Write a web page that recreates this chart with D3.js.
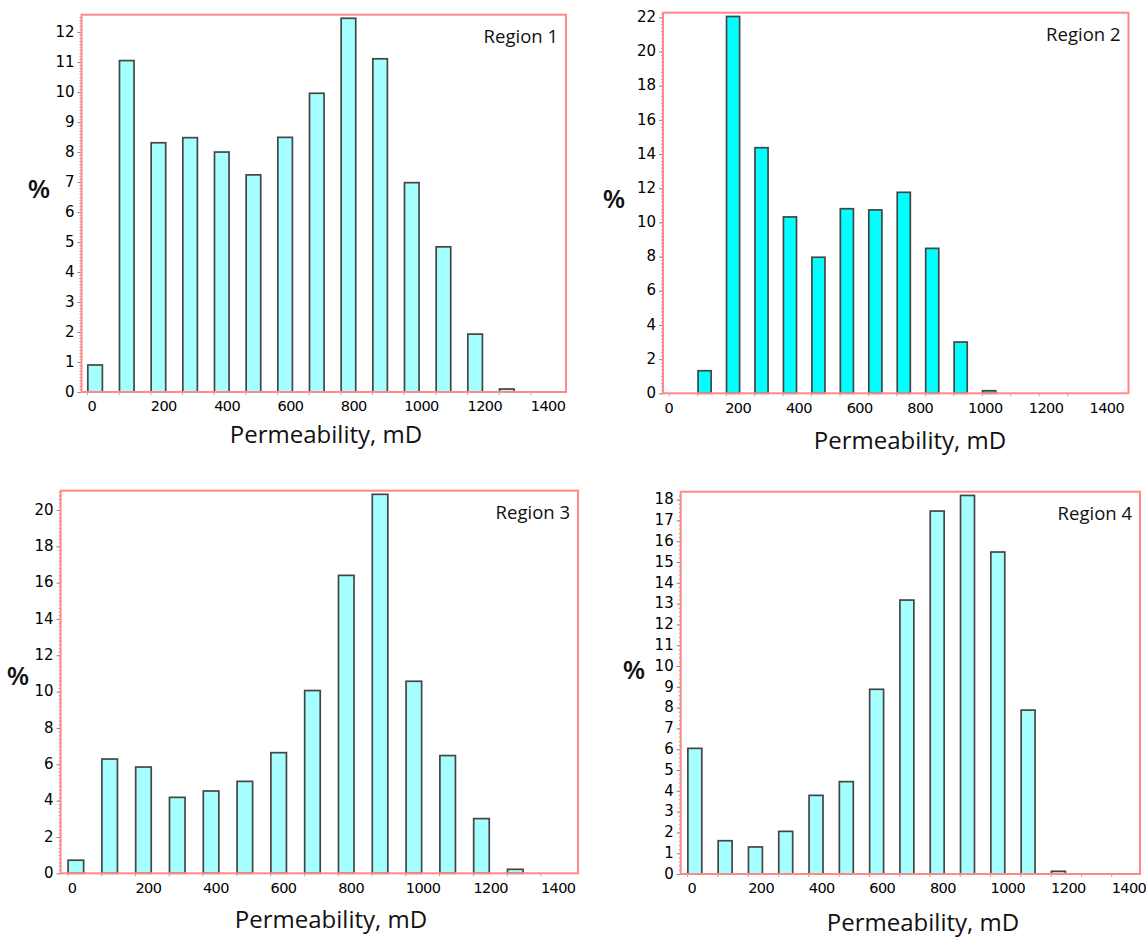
<!DOCTYPE html>
<html>
<head>
<meta charset="utf-8">
<script src="https://cdn.jsdelivr.net/npm/d3@7"></script>
<style>
  html, body { margin: 0; padding: 0; background: #fff; }
  svg { display: block; }
</style>
</head>
<body>
<svg id="chart" width="1146" height="937"></svg>
<script>
// Permeability bins (mD, left edge of each 100 mD class)
const binStarts = [0, 100, 200, 300, 400, 500, 600, 700, 800, 900, 1000, 1100, 1200, 1300, 1400];
const xTickLabels = [0, 200, 400, 600, 800, 1000, 1200, 1400];

// Share of samples (%) in each bin, per region
const region1 = [0.9, 11.05, 8.31, 8.48, 8.0, 7.24, 8.49, 9.96, 12.46, 11.11, 6.98, 4.84, 1.93, 0.1, 0];
const region2 = [0, 1.32, 22.05, 14.37, 10.32, 7.96, 10.8, 10.73, 11.76, 8.48, 3.0, 0.15, 0, 0, 0];
const region3 = [0.72, 6.29, 5.85, 4.18, 4.53, 5.06, 6.64, 10.06, 16.4, 20.86, 10.57, 6.48, 3.01, 0.22, 0];
const region4 = [6.04, 1.6, 1.3, 2.05, 3.78, 4.44, 8.88, 13.17, 17.45, 18.2, 15.48, 7.88, 0.13, 0, 0];

// Y tick values per panel
const yTicks1 = [0, 1, 2, 3, 4, 5, 6, 7, 8, 9, 10, 11, 12];
const yTicks2 = [0, 2, 4, 6, 8, 10, 12, 14, 16, 18, 20, 22];
const yTicks3 = [0, 2, 4, 6, 8, 10, 12, 14, 16, 18, 20];
const yTicks4 = [0, 1, 2, 3, 4, 5, 6, 7, 8, 9, 10, 11, 12, 13, 14, 15, 16, 17, 18];

const regionNames = ["Region 1", "Region 2", "Region 3", "Region 4"];
const xTitle = "Permeability, mD";
const yTitle = "%";

const BAR_SPAN = 46; // bar width in mD

// Panel layout
const panels = [
  { name: regionNames[0], values: region1, yTicks: yTicks1, yTop: 12.58, minor: 0.1,
    box: { x0: 81.5, x1: 566, y0: 14.7, y1: 392 }, xDom: [-17.4, 1512.5],
    fill: "#a6ffff", labelRange: null, pct: [39, 198], title: [326, 443] },
  { name: regionNames[1], values: region2, yTicks: yTicks2, yTop: 22.27, minor: 0.2,
    box: { x0: 663, x1: 1128.5, y0: 12.7, y1: 393.3 }, xDom: [-20.4, 1615.6],
    fill: "#00ffff", labelRange: [664, 1089], pct: [614, 208], title: [910, 449] },
  { name: regionNames[2], values: region3, yTicks: yTicks3, yTop: 21.06, minor: 0.2,
    box: { x0: 60.6, x1: 578, y0: 490.7, y1: 873.3 }, xDom: [-19.8, 1511],
    fill: "#a6ffff", labelRange: null, pct: [18, 685], title: [331, 928] },
  { name: regionNames[3], values: region4, yTicks: yTicks4, yTop: 18.38, minor: 0.2,
    box: { x0: 680.7, x1: 1140, y0: 491.7, y1: 874 }, xDom: [-21, 1495],
    fill: "#a6ffff", labelRange: null, pct: [634, 679], title: [923, 931] }
];

const svg = d3.select("#chart");
const tickFont = "'DejaVu Sans', Verdana, sans-serif";
const titleFont = "'Open Sans', 'Noto Sans', sans-serif";
const fmt = d3.format("d");

panels.forEach(p => {
  const b = p.box;
  const x = d3.scaleLinear().domain(p.xDom).range([b.x0, b.x1]);
  const y = d3.scaleLinear().domain([0, p.yTop]).range([b.y1, b.y0]);
  const g = svg.append("g");

  // Minor y ticks
  const minorVals = d3.range(0, p.yTop + 1e-9, p.minor);
  g.append("g")
    .attr("transform", `translate(${b.x0},0)`)
    .call(d3.axisLeft(y).tickValues(minorVals).tickSize(2).tickFormat(""))
    .call(a => a.select(".domain").remove())
    .call(a => a.selectAll("line").attr("stroke", "#b0a0a0").attr("stroke-width", 1));

  // Major y ticks with labels
  g.append("g")
    .attr("transform", `translate(${b.x0},0)`)
    .call(d3.axisLeft(y).tickValues(p.yTicks).tickSize(4).tickPadding(3).tickFormat(fmt))
    .call(a => a.select(".domain").remove())
    .call(a => a.selectAll("line").attr("stroke", "#888").attr("stroke-width", 1))
    .call(a => a.selectAll("text")
      .attr("fill", "#000")
      .attr("dy", "0.28em")
      .style("font-family", tickFont)
      .style("font-size", "15px"));

  // Bin ticks on x axis
  g.append("g")
    .attr("transform", `translate(0,${b.y1})`)
    .call(d3.axisBottom(x).tickValues(binStarts).tickSize(3).tickFormat(""))
    .call(a => a.select(".domain").remove())
    .call(a => a.selectAll("line").attr("stroke", "#aaa").attr("stroke-width", 1));

  // X tick labels (left-aligned at their positions)
  const xl = p.labelRange ? d3.scaleLinear().domain([0, 1400]).range(p.labelRange) : x;
  g.append("g")
    .attr("transform", `translate(0,${b.y1})`)
    .call(d3.axisBottom(xl).tickValues(xTickLabels).tickSize(0).tickPadding(9).tickFormat(fmt))
    .call(a => a.select(".domain").remove())
    .call(a => a.selectAll("text")
      .attr("text-anchor", "start")
      .attr("fill", "#000")
      .style("font-family", tickFont)
      .style("font-size", "14.5px")
      .style("letter-spacing", "-0.6px"));

  // Bars
  g.append("g")
    .selectAll("rect")
    .data(binStarts.map((s, i) => ({ s, v: p.values[i] })).filter(d => d.v > 0))
    .join("rect")
    .attr("x", d => x(d.s) + 0.8)
    .attr("width", d => x(d.s + BAR_SPAN) - x(d.s))
    .attr("y", d => y(d.v))
    .attr("height", d => y(0) - y(d.v))
    .attr("fill", p.fill)
    .attr("stroke", "#454545")
    .attr("stroke-width", 1.7);

  // Frame
  g.append("rect")
    .attr("x", b.x0).attr("y", b.y0)
    .attr("width", b.x1 - b.x0).attr("height", b.y1 - b.y0)
    .attr("fill", "none")
    .attr("stroke", "#f88")
    .attr("stroke-width", 2);

  // Region label
  g.append("text")
    .attr("x", b.x1 - 8).attr("y", b.y0 + 28)
    .attr("text-anchor", "end")
    .attr("fill", "#111")
    .style("font-family", titleFont)
    .style("font-size", "18.5px")
    .text(p.name);

  // Axis titles
  g.append("text")
    .attr("x", p.title[0]).attr("y", p.title[1])
    .attr("text-anchor", "middle")
    .attr("fill", "#111")
    .style("font-family", titleFont)
    .style("font-size", "24px")
    .text(xTitle);

  g.append("text")
    .attr("x", p.pct[0]).attr("y", p.pct[1])
    .attr("text-anchor", "middle")
    .attr("fill", "#111")
    .style("font-family", titleFont)
    .style("font-size", "26px")
    .style("font-weight", "600")
    .text(yTitle);
});
</script>
</body>
</html>
